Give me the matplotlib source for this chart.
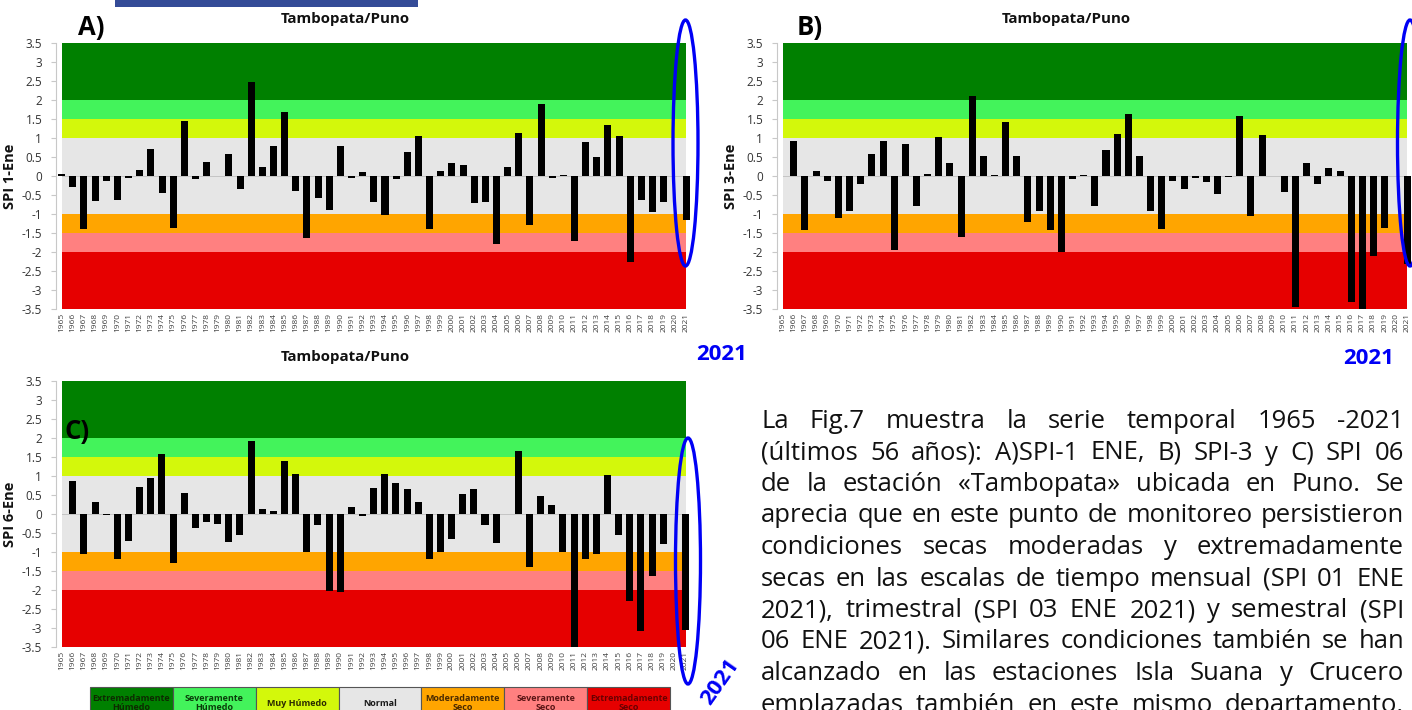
import matplotlib
matplotlib.use('Agg')
import matplotlib.pyplot as plt
from matplotlib.patches import Ellipse, Rectangle

# ---------------- data ----------------
years = list(range(1965, 2022))

spi1 = [0.05, -0.30, -1.39, -0.66, -0.13, -0.64, -0.05, 0.17, 0.70, -0.44,
        -1.36, 1.45, -0.08, 0.38, 0.01, 0.59, -0.34, 2.46, 0.24, 0.80,
        1.69, -0.39, -1.64, -0.57, -0.88, 0.80, -0.04, 0.11, -0.67, -1.03,
        -0.08, 0.62, 1.04, -1.38, 0.14, 0.33, 0.29, -0.70, -0.67, -1.78,
        0.24, 1.12, -1.28, 1.89, -0.04, 0.03, -1.70, 0.90, 0.51, 1.34,
        1.06, -2.25, -0.63, -0.95, -0.68, 0.00, -1.15]

spi3 = [0.00, 0.91, -1.42, 0.14, -0.14, -1.11, -0.93, -0.22, 0.59, 0.91,
        -1.93, 0.84, -0.78, 0.06, 1.02, 0.33, -1.59, 2.10, 0.52, 0.03,
        1.41, 0.52, -1.22, -0.91, -1.43, -2.00, -0.07, 0.02, -0.79, 0.67,
        1.11, 1.64, 0.53, -0.91, -1.38, -0.12, -0.34, -0.04, -0.17, -0.47,
        -0.03, 1.57, -1.05, 1.07, 0.01, -0.41, -3.43, 0.35, -0.21, 0.20,
        0.14, -3.31, -3.50, -2.10, -1.37, 0.00, -2.30]

spi6 = [0.00, 0.87, -1.06, 0.32, -0.02, -1.18, -0.72, 0.72, 0.94, 1.57,
        -1.29, 0.54, -0.38, -0.21, -0.26, -0.73, -0.54, 1.92, 0.14, 0.07,
        1.38, 1.04, -1.01, -0.29, -2.01, -2.04, 0.19, -0.05, 0.67, 1.04,
        0.81, 0.65, 0.31, -1.18, -0.99, -0.65, 0.53, 0.66, -0.28, -0.77,
        0.00, 1.66, -1.40, 0.47, 0.24, -1.00, -3.50, -1.19, -1.06, 1.03,
        -0.56, -2.28, -3.07, -1.64, -0.78, 0.00, -3.05]

band_edges = [-3.5, -2.0, -1.5, -1.0, 1.0, 1.5, 2.0, 3.5]
band_colors = ['#E60000', '#FF8080', '#FFA500', '#E6E6E6', '#D3F80B', '#43F35B', '#008000']

ytick_vals = [3.5, 3, 2.5, 2, 1.5, 1, 0.5, 0, -0.5, -1, -1.5, -2, -2.5, -3, -3.5]
ytick_labels = ['3.5', '3', '2.5', '2', '1.5', '1', '0.5', '0', '-0.5', '-1',
                '-1.5', '-2', '-2.5', '-3', '-3.5']

panel_title = 'Tambopata/Puno'
panel_ylabels = ['SPI 1-Ene', 'SPI 3-Ene', 'SPI 6-Ene']
panel_letters = ['A)', 'B)', 'C)']
highlight_label = '2021'

legend_labels = ['Extremadamente\nHúmedo', 'Severamente\nHúmedo', 'Muy Húmedo', 'Normal',
                 'Moderadamente\nSeco', 'Severamente\nSeco', 'Extremadamente\nSeco']
legend_colors = ['#008000', '#43F35B', '#D3F80B', '#E6E6E6', '#FFA500', '#FF8080', '#E60000']
legend_text_colors = ['#0d2a00', '#0a3d0a', '#2a2a00', '#1a1a1a', '#4a2a00', '#5a1515', '#6a0000']

paragraph = [
    'La Fig.7 muestra la serie temporal 1965 -2021',
    '(últimos 56 años): A)SPI-1 ENE, B) SPI-3 y C) SPI 06',
    'de la estación «Tambopata» ubicada en Puno. Se',
    'aprecia que en este punto de monitoreo persistieron',
    'condiciones secas moderadas y extremadamente',
    'secas en las escalas de tiempo mensual (SPI 01 ENE',
    '2021), trimestral (SPI 03 ENE 2021) y semestral (SPI',
    '06 ENE 2021). Similares condiciones también se han',
    'alcanzado en las estaciones Isla Suana y Crucero',
    'emplazadas también en este mismo departamento.',
]

# ---------------- figure ----------------
plt.rcParams['font.family'] = ['Open Sans', 'DejaVu Sans']
W, H = 1412, 710
fig = plt.figure(figsize=(W / 100, H / 100), dpi=100)
fig.patch.set_facecolor('white')


def px_axes(left, top, right, bottom):
    return fig.add_axes([left / W, 1 - bottom / H, (right - left) / W, (bottom - top) / H])


def draw_panel(ax, vals):
    for lo, hi, c in zip(band_edges[:-1], band_edges[1:], band_colors):
        ax.fill_between([years[0], years[-1]], lo, hi, color=c, lw=0, zorder=0)
    ax.plot([years[0], years[-1]], [0, 0], color='#c4c4c4', lw=0.7, zorder=1)
    ax.bar(years, vals, width=0.63, color='black', zorder=2)
    ax.set_xlim(years[0] - 0.5, years[-1] + 0.5)
    ax.set_ylim(-3.5, 3.5)
    ax.set_yticks(ytick_vals)
    ax.set_yticklabels(ytick_labels)
    ax.set_xticks(years)
    ax.set_xticklabels([str(y) for y in years], rotation=90, fontsize=6.0, color='#404040')
    for s in ['top', 'right', 'bottom']:
        ax.spines[s].set_visible(False)
    ax.spines['left'].set_color('#c8c8c8')
    ax.spines['left'].set_linewidth(0.8)
    ax.tick_params(axis='y', length=3.5, width=0.8, color='#c8c8c8', pad=6.5,
                   labelsize=8.5, labelcolor='#333333')
    ax.tick_params(axis='x', length=0, pad=2.5)
    ax.set_facecolor('none')


axA = px_axes(56.1, 42.7, 691.6, 309.3)
axB = px_axes(777.1, 42.7, 1412.6, 309.3)
axC = px_axes(56.1, 380.7, 691.1, 647.3)
for ax, vals in zip([axA, axB, axC], [spi1, spi3, spi6]):
    draw_panel(ax, vals)

# ---------------- overlay (pixel coordinates) ----------------
ov = fig.add_axes([0, 0, 1, 1], zorder=5)
ov.set_xlim(0, W)
ov.set_ylim(H, 0)
ov.axis('off')

# blue bar at top
ov.add_patch(Rectangle((115, 0), 303, 7, color='#344B97', lw=0))

# titles, letters, y labels
for (tx, ty) in [(345, 19), (1066, 19), (345, 357)]:
    ov.text(tx, ty, panel_title, fontsize=10.8, fontweight='bold', ha='center', va='center',
            color='#111111')
for (lx, ly), lab in zip([(78, 28), (797, 28), (64, 432)], panel_letters):
    ov.text(lx, ly, lab, fontsize=18.5, fontweight='bold', ha='left', va='center', color='black')
for (yx, yy), lab in zip([(10, 176), (731, 176), (10, 514)], panel_ylabels):
    ov.text(yx, yy, lab, fontsize=10.5, fontweight='bold', rotation=90, ha='center',
            va='center', color='#111111')

# highlight ellipses and "2021" labels
blue = '#0000F5'
for (ex, ey) in [(685.5, 143), (1410, 143), (688, 561)]:
    ov.add_patch(Ellipse((ex, ey), 25, 246, fill=False, ec=blue, lw=2.4))
ov.text(722, 355, highlight_label, fontsize=16, fontweight='bold', color=blue, ha='center', va='center')
ov.text(1369, 358, highlight_label, fontsize=16, fontweight='bold', color=blue, ha='center', va='center')
ov.text(720, 682, highlight_label, fontsize=16, fontweight='bold', color=blue, ha='center',
        va='center', rotation=55, rotation_mode='anchor')

# legend table
cell_w = (670 - 90) / len(legend_labels)
for i, (lab, fc, tc) in enumerate(zip(legend_labels, legend_colors, legend_text_colors)):
    x0 = 90 + i * cell_w
    ov.add_patch(Rectangle((x0, 687), cell_w, 32, fc=fc, ec='#555555', lw=0.8))
    ov.text(x0 + cell_w / 2, 703, lab, fontsize=6.5, fontweight='bold', color=tc,
            ha='center', va='center', linespacing=1.1)

# justified paragraph
renderer = fig.canvas.get_renderer()


def text_width(s, fs):
    t = ov.text(0, 0, s, fontsize=fs)
    w = t.get_window_extent(renderer).width
    t.remove()
    return w


left_x, right_x = 761, 1404
fs = 10 * 632 / text_width(paragraph[3], 10)
for i, line in enumerate(paragraph):
    words = line.split(' ')
    widths = [text_width(w, fs) for w in words]
    gap = (right_x - left_x - sum(widths)) / (len(words) - 1)
    x = left_x
    y = 428 + i * 31.5
    for w, wd in zip(words, widths):
        ov.text(x, y, w, fontsize=fs, ha='left', va='baseline', color='#111111')
        x += wd + gap

fig.savefig('out.png', dpi=100, facecolor='white')
